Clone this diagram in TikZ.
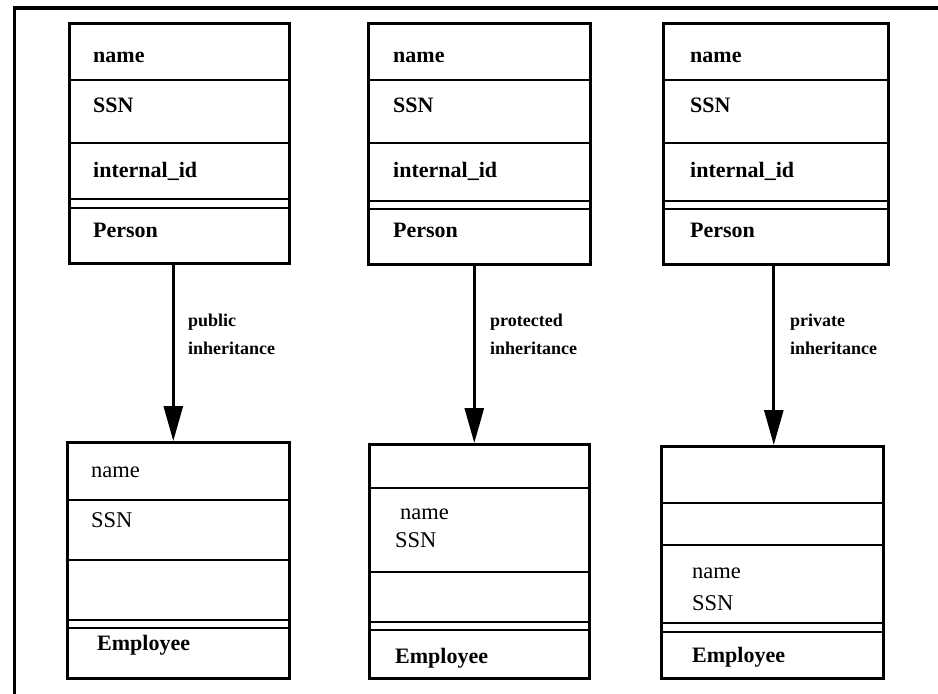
\documentclass[tikz,border=0pt]{standalone}
\usepackage{fontspec}
\setmainfont{Liberation Serif}
\usetikzlibrary{arrows.meta}
\begin{document}
\begin{tikzpicture}[x=1pt,y=-1pt,
  cls/.style={draw,line width=2.6pt,inner sep=0pt,anchor=north west},
  sep/.style={line width=2.2pt},
  tb/.style={anchor=base west,inner sep=0pt,font=\fontsize{22}{25}\selectfont\bfseries},
  tr/.style={anchor=base west,inner sep=0pt,font=\fontsize{22.5}{25}\selectfont},
  lbl/.style={anchor=base west,inner sep=0pt,font=\fontsize{18}{21}\selectfont\bfseries},
  arr/.style={line width=2.8pt,-{Triangle[length=35pt,width=19pt]}}]
\useasboundingbox (0,0) rectangle (938,694);
% frame
\draw[line width=4pt] (14,8) -- (940,8);
\draw[line width=3pt] (14,6) -- (14,696);
% Person boxes
\node[cls,minimum width=220pt,minimum height=240pt] (p1) at (68,22) {};
\node[cls,minimum width=222pt,minimum height=241pt] (p2) at (367,22) {};
\node[cls,minimum width=225pt,minimum height=241pt] (p3) at (662,22) {};
\foreach \b/\ya/\yb/\yc/\yd in {p1/80/143/199/208, p2/80/143/201/209, p3/80/143/201/209}{
  \draw[sep] (\b.west |- 0,\ya) -- (\b.east |- 0,\ya);
  \draw[sep] (\b.west |- 0,\yb) -- (\b.east |- 0,\yb);
  \draw[sep] (\b.west |- 0,\yc) -- (\b.east |- 0,\yc);
  \draw[sep] (\b.west |- 0,\yd) -- (\b.east |- 0,\yd);
}
\node[tb] (p1a) at (93,62) {name};
\node[tb] (p1b) at (93,112) {SSN};
\node[tb] (p1c) at (93,177) {internal\_id};
\node[tb] (p1d) at (93,237) {Person};
\node[tb] (p2a) at (393,62) {name};
\node[tb] (p2b) at (393,112) {SSN};
\node[tb] (p2c) at (393,177) {internal\_id};
\node[tb] (p2d) at (393,237) {Person};
\node[tb] (p3a) at (690,62) {name};
\node[tb] (p3b) at (690,112) {SSN};
\node[tb] (p3c) at (690,177) {internal\_id};
\node[tb] (p3d) at (690,237) {Person};
% Employee boxes
\node[cls,minimum width=222pt,minimum height=236pt] (e1) at (66,441) {};
\node[cls,minimum width=220pt,minimum height=234pt] (e2) at (368,443) {};
\node[cls,minimum width=222pt,minimum height=232pt] (e3) at (660,445) {};
\foreach \b/\ya/\yb/\yc/\yd in {e1/500/560/620/628, e2/488/572/622/630, e3/503/545/623/632}{
  \draw[sep] (\b.west |- 0,\ya) -- (\b.east |- 0,\ya);
  \draw[sep] (\b.west |- 0,\yb) -- (\b.east |- 0,\yb);
  \draw[sep] (\b.west |- 0,\yc) -- (\b.east |- 0,\yc);
  \draw[sep] (\b.west |- 0,\yd) -- (\b.east |- 0,\yd);
}
\node[tr] (e1a) at (91,477) {name};
\node[tr] (e1b) at (91,527) {SSN};
\node[tb] (e1c) at (97,650) {Employee};
\node[tr] (e2a) at (400,519) {name};
\node[tr] (e2b) at (395,547) {SSN};
\node[tb] (e2c) at (395,663) {Employee};
\node[tr] (e3a) at (692,578) {name};
\node[tr] (e3b) at (692,610) {SSN};
\node[tb] (e3c) at (692,662) {Employee};
% arrows
\draw[arr] ([xshift=-6pt]p1.south) -- ([xshift=-6pt]p1.south |- e1.north);
\draw[arr] ([xshift=-5pt]p2.south) -- ([xshift=-5pt]p2.south |- e2.north);
\draw[arr] ([xshift=-2pt]p3.south) -- ([xshift=-2pt]p3.south |- e3.north);
% labels
\node[lbl] (l1a) at (188,326) {public};
\node[lbl] (l1b) at (188,354) {inheritance};
\node[lbl] (l2a) at (490,326) {protected};
\node[lbl] (l2b) at (490,354) {inheritance};
\node[lbl] (l3a) at (790,326) {private};
\node[lbl] (l3b) at (790,354) {inheritance};
\end{tikzpicture}
\end{document}
